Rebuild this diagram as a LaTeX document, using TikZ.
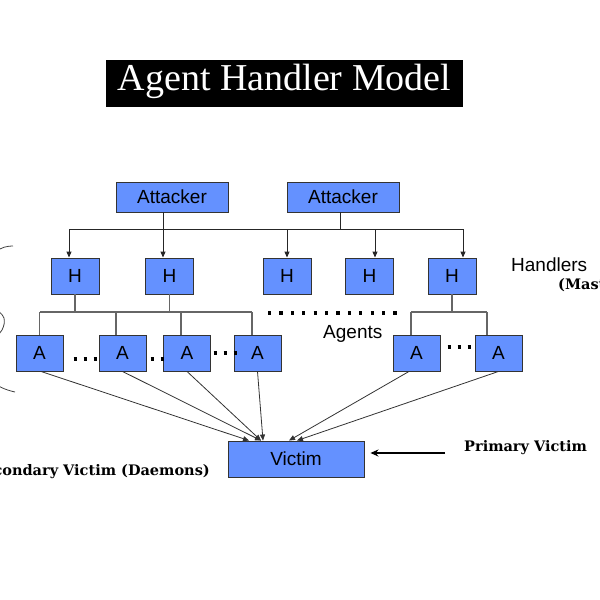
\documentclass[tikz,border=0pt]{standalone}
\usepackage{fontspec}
\setmainfont{Liberation Sans}
\newfontfamily\titlefont{Liberation Serif}
\newfontfamily\labelfont{DejaVu Serif}
\usetikzlibrary{arrows.meta,calc}
\definecolor{boxblue}{RGB}{100,145,255}
\begin{document}
\begin{tikzpicture}[x=1pt,y=-1pt,
  box/.style={draw=black!80, fill=boxblue, line width=0.9pt, inner sep=0pt, font=\fontsize{19}{19}\selectfont},
  attbox/.style={box, minimum width=112pt, minimum height=30pt},
  hbox/.style={box, minimum width=48pt, minimum height=36pt},
  abox/.style={box, minimum width=47pt, minimum height=36pt},
  vbox/.style={box, minimum width=136pt, minimum height=36pt},
  wire/.style={draw=black!85, line width=0.9pt},
  arrw/.style={wire, -{Triangle[length=6pt,width=5pt]}},
  gwire/.style={draw=black!60, line width=1.1pt},
  vwire/.style={draw=black!80, line width=0.8pt, -{Triangle[length=6pt,width=5pt]}},
  dotrow/.style={draw=black, line width=3.5pt, dash pattern=on 3.5pt off 6.5pt},
  sanslabel/.style={inner sep=0pt, font=\fontsize{19}{19}\selectfont},
  seriflabel/.style={inner sep=0pt, font=\labelfont\bfseries\fontsize{14.5}{14.5}\selectfont}
]
\useasboundingbox (0,0) rectangle (600,600);
\clip (0,0) rectangle (600,600);

% title
\node[fill=black, text=white, inner sep=0pt, minimum width=357pt, text height=30pt, text depth=17pt,
      font=\titlefont\fontsize{38}{38}\selectfont] (title) at (284.5,83.5) {Agent Handler Model};

% boxes
\node[attbox] (att1) at (172,197) {Attacker};
\node[attbox] (att2) at (343,197) {Attacker};
\node[hbox] (h1) at (75,276) {H};
\node[hbox] (h2) at (169.5,276) {H};
\node[hbox] (h3) at (287,276) {H};
\node[hbox] (h4) at (369.5,276) {H};
\node[hbox] (h5) at (452,276) {H};
\node[abox] (a1) at (39.5,353) {A};
\node[abox] (a2) at (122.5,353) {A};
\node[abox] (a3) at (187,353) {A};
\node[abox] (a4) at (257.5,353) {A};
\node[abox] (a5) at (416.5,353) {A};
\node[abox] (a6) at (498.5,353) {A};
\node[vbox] (victim) at (296,459) {Victim};

% attacker -> handler bus
\coordinate (busL) at (69,229);
\coordinate (busR) at (463,229);
\draw[wire] (busL) -- (busR);
\draw[wire] ([xshift=-9pt]att1.south) -- ([xshift=-9pt]att1.south |- busL);
\draw[wire] ([xshift=-3pt]att2.south) -- ([xshift=-3pt]att2.south |- busL);
\draw[arrw] ([xshift=-6pt]h1.north |- busL) -- ([xshift=-6pt]h1.north);
\draw[arrw] ([xshift=-6.5pt]h2.north |- busL) -- ([xshift=-6.5pt]h2.north);
\draw[arrw] (h3.north |- busL) -- (h3.north);
\draw[arrw] ([xshift=5.5pt]h4.north |- busL) -- ([xshift=5.5pt]h4.north);
\draw[arrw] ([xshift=11pt]h5.north |- busL) -- ([xshift=11pt]h5.north);

% handler -> agent buses
\coordinate (abusL) at (40,312);
\coordinate (abusR) at (252,312);
\draw[gwire] (abusL) -- (abusR);
\draw[gwire] (h1.south) -- (h1.south |- abusL);
\draw[gwire] (h2.south) -- (h2.south |- abusL);
\draw[gwire] (a1.north |- abusL) -- (a1.north);
\draw[gwire] ([xshift=-6.5pt]a2.north |- abusL) -- ([xshift=-6.5pt]a2.north);
\draw[gwire] ([xshift=-6pt]a3.north |- abusL) -- ([xshift=-6pt]a3.north);
\draw[gwire] ([xshift=-5.5pt]a4.north |- abusL) -- ([xshift=-5.5pt]a4.north);

\coordinate (bbusL) at (411,312);
\coordinate (bbusR) at (487,312);
\draw[gwire] (bbusL) -- (bbusR);
\draw[gwire] (h5.south) -- (h5.south |- bbusL);
\draw[gwire] ([xshift=-5.5pt]a5.north |- bbusL) -- ([xshift=-5.5pt]a5.north);
\draw[gwire] ([xshift=-11.5pt]a6.north |- bbusL) -- ([xshift=-11.5pt]a6.north);

% agents -> victim
\draw[vwire] ([xshift=1.5pt]a1.south) -- ([xshift=-47pt]victim.north);
\draw[vwire] (a2.south) -- ([xshift=-35pt]victim.north);
\draw[vwire] (a3.south) -- ([xshift=-35pt]victim.north);
\draw[vwire] (a4.south) -- ([xshift=-33pt]victim.north);
\draw[vwire] ([xshift=-7.5pt]a5.south) -- ([xshift=-7pt]victim.north);
\draw[vwire] (a6.south) -- ([xshift=1pt]victim.north);

% ellipsis dots
\coordinate (d1s) at (73.5,359); \coordinate (d1e) at (97,359);
\coordinate (d2s) at (150.5,359); \coordinate (d2e) at (164,359);
\coordinate (d3s) at (213.5,353); \coordinate (d3e) at (238,353);
\coordinate (d4s) at (447.5,347); \coordinate (d4e) at (471,347);
\draw[dotrow] (d1s) -- (d1e);
\draw[dotrow] (d2s) -- (d2e);
\draw[dotrow] (d3s) -- (d3e);
\draw[dotrow] (d4s) -- (d4e);
\coordinate (hdotS) at (268,313);
\coordinate (hdotE) at (404,313);
\draw[draw=black, line width=3.2pt, dash pattern=on 3.2pt off 8.2pt] (hdotS) -- (hdotE);

% labels
\node[sanslabel, anchor=west] (handlers) at (511,265) {Handlers};
\node[seriflabel, anchor=west] (masters) at (558,285) {(Masters)};
\node[sanslabel, anchor=west] (agents) at (323,334) {Agents};
\node[seriflabel, anchor=west] (primary) at (464,448) {Primary Victim};
\node[seriflabel, anchor=east] (secondary) at (210,472) {Secondary Victim (Daemons)};

% primary victim arrow
\coordinate (pvtail) at (445,453);
\draw[draw=black, line width=2pt, -{Stealth[length=8pt,width=7pt]}] (pvtail) -- ($(victim.east)+(6,-6)$);

% brace on the left
\draw[black!75, line width=0.8pt] plot[smooth, tension=0.7] coordinates
  {(13,246) (0,249) (-12,262) (-14,290) (-2,310) (4,318) (2,330) (-8,342) (-14,365) (-4,384) (15,392)};
\end{tikzpicture}
\end{document}
